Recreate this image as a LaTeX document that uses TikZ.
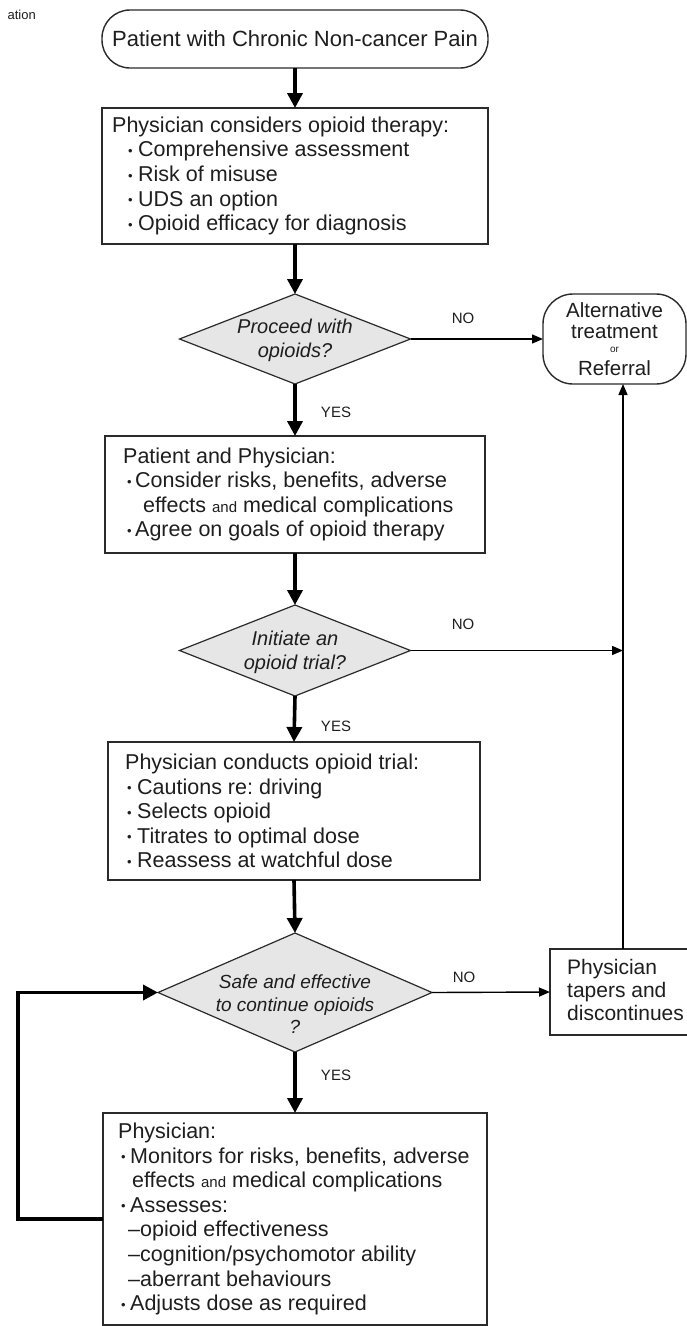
\documentclass[tikz,border=0pt]{standalone}
\usepackage{fontspec}
\setmainfont{Liberation Sans}
\usetikzlibrary{arrows.meta,shapes.geometric,calc}
\definecolor{ink}{HTML}{1E1E1E}
\definecolor{dfill}{HTML}{E6E6E6}
\definecolor{edge}{HTML}{2A2A2A}
\newcommand\mybul[2]{\hspace*{#1pt}\makebox[#2pt][l]{\raisebox{1.5pt}{\fontsize{13pt}{13pt}\selectfont\textbullet}}}
\newcommand\smand{{\fontsize{15pt}{15pt}\selectfont and}}
\frenchspacing
\begin{document}
\begin{tikzpicture}[x=1pt,y=-1pt,
  box/.style={draw=edge,line width=1.4pt,rectangle,inner sep=0pt,outer sep=0pt},
  txt/.style={text=ink,align=left,inner sep=0pt,font=\fontsize{21.5pt}{24.6pt}\selectfont},
  dia/.style={draw=edge,line width=1.2pt,fill=dfill,diamond,inner sep=0pt,outer sep=0pt},
  dtxt/.style={text=ink,align=center,inner sep=0pt,font=\itshape\fontsize{20pt}{24pt}\selectfont},
  lab/.style={text=ink,inner sep=0pt,font=\fontsize{15pt}{15pt}\selectfont},
  thickarrow/.style={draw=black,line width=3.6pt,-{Triangle[length=15pt,width=15pt]}},
  thinarrow/.style={draw=black,line width=1.4pt,-{Triangle[length=11pt,width=9pt]}}
]
\useasboundingbox[fill=white] (0,0) rectangle (687,1326);
\clip (0,0) rectangle (687,1326);

\node[text=ink,inner sep=0pt,anchor=east,font=\fontsize{13pt}{13pt}\selectfont] (cut) at (36,15) {ation};

% start
\node[box,rounded corners=28pt,minimum width=386pt,minimum height=58pt] (start) at (295,39) {};
\node[txt,font=\fontsize{22pt}{24pt}\selectfont] (startt) at (start) {Patient with Chronic Non-cancer Pain};

% box 1
\node[box,minimum width=386pt,minimum height=136pt] (b1) at (295,176) {};
\node[txt,anchor=west] (b1t) at ([xshift=10pt]b1.west) {Physician considers opioid therapy:\\
\mybul{16}{10}Comprehensive assessment\\
\mybul{16}{10}Risk of misuse\\
\mybul{16}{10}UDS an option\\
\mybul{16}{10}Opioid efficacy for diagnosis};

% diamond 1
\node[dia,minimum width=231pt,minimum height=90pt] (d1) at (295,339) {};
\node[dtxt] (d1t) at ([yshift=-1.5pt]d1.center) {Proceed with\\opioids?};

% alternative
\node[box,rounded corners=30pt,minimum width=143pt,minimum height=90pt] (alt) at (614.5,339) {};
\node[text=ink,align=center,inner sep=0pt,font=\fontsize{20.5pt}{21pt}\selectfont] (altt) at (alt) {Alternative\\treatment\\[-7pt]{\fontsize{10pt}{10pt}\selectfont or}\\[2pt]Referral};

% box 2
\node[box,minimum width=380pt,minimum height=117pt] (b2) at (295,494.5) {};
\node[txt,anchor=west] (b2t) at ([xshift=18pt]b2.west) {Patient and Physician:\\
\mybul{4}{8}Consider risks, benefits, adverse\\
\hspace*{20pt}effects \smand{} medical complications\\
\mybul{4}{8}Agree on goals of opioid therapy};

% diamond 2
\node[dia,minimum width=231pt,minimum height=91pt] (d2) at (295,650.5) {};
\node[dtxt] (d2t) at ([yshift=-1.5pt]d2.center) {Initiate an\\opioid trial?};

% box 3
\node[box,minimum width=372pt,minimum height=138pt] (b3) at (294,811) {};
\node[txt,anchor=west] (b3t) at ([xshift=17pt]b3.west) {Physician conducts opioid trial:\\
\mybul{2}{10}Cautions re: driving\\
\mybul{2}{10}Selects opioid\\
\mybul{2}{10}Titrates to optimal dose\\
\mybul{2}{10}Reassess at watchful dose};

% diamond 3
\node[dia,minimum width=274pt,minimum height=119pt] (d3) at (295,992.5) {};
\node[dtxt,font=\itshape\fontsize{19pt}{22.5pt}\selectfont] (d3t) at ([yshift=-12pt]d3.center) {Safe and effective\\to continue opioids\\?};

% tapers
\node[box,minimum width=146pt,minimum height=86pt] (tap) at (623,992) {};
\node[txt,anchor=west,font=\fontsize{21pt}{23pt}\selectfont] (tapt) at ([xshift=17pt,yshift=2pt]tap.west) {Physician\\tapers and\\discontinues};

% box 4
\node[box,minimum width=384pt,minimum height=212pt] (b4) at (295,1219) {};
\node[txt,anchor=west] (b4t) at ([xshift=15pt]b4.west) {Physician:\\
\mybul{3}{9}Monitors for risks, benefits, adverse\\
\hspace*{14pt}effects \smand{} medical complications\\
\mybul{3}{9}Assesses:\\
\hspace*{10pt}--opioid effectiveness\\
\hspace*{10pt}--cognition/psychomotor ability\\
\hspace*{10pt}--aberrant behaviours\\
\mybul{3}{9}Adjusts dose as required};

% helper coordinate for loop
\coordinate (loopx) at (18,0);

% connectors
\draw[thickarrow] (start.south) -- (b1.north);
\draw[thickarrow] (b1.south) -- (d1.north);
\draw[thickarrow] (d1.south) -- (b2.north);
\draw[thickarrow] (b2.south) -- (d2.north);
\draw[thickarrow] (d2.south) -- (b3.north);
\draw[thickarrow] (b3.south) -- (d3.north);
\draw[thickarrow] (d3.south) -- (b4.north);
\draw[thinarrow] (d1.east) -- (alt.west);
\draw[thinarrow] (d2.east) -- (d2.east -| tap.north);
\draw[thinarrow] (d3.east) -- (tap.west);
\draw[thinarrow] (tap.north) -- (tap.north |- alt.south);
\draw[thickarrow,line join=miter] (b4.west) -- (loopx |- b4.west) -- (loopx |- d3.west) -- (d3.west);

% labels
\node[lab] (no1) at (463,318) {NO};
\node[lab] (no2) at (463,624) {NO};
\node[lab] (no3) at (464,977) {NO};
\node[lab] (yes1) at (336,412) {YES};
\node[lab] (yes2) at (336,726) {YES};
\node[lab] (yes3) at (336,1075) {YES};
\end{tikzpicture}
\end{document}
